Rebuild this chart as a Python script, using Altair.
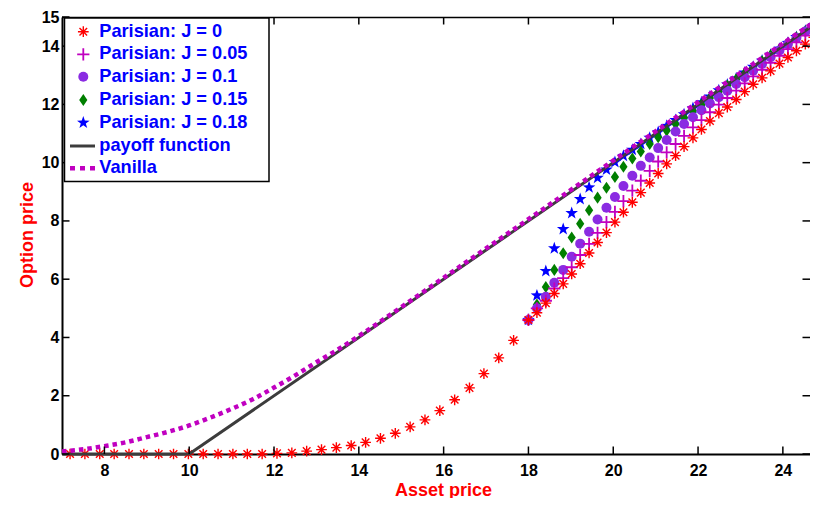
import altair as alt
import pandas as pd

# ---------------- data ----------------
x_ticks = [8, 10, 12, 14, 16, 18, 20, 22, 24]
y_ticks = [0, 2, 4, 6, 8, 10, 12, 14, 15]

# Parisian J = 0 before the barrier region
j0_left_x = [7.19, 7.54, 7.89, 8.23, 8.58, 8.93, 9.28, 9.63, 9.98, 10.33, 10.68,
             11.03, 11.37, 11.72, 12.07, 12.42, 12.77, 13.12, 13.47, 13.82, 14.16,
             14.51, 14.86, 15.21, 15.56, 15.91, 16.26, 16.61, 16.95, 17.30, 17.65]
j0_left_y = [0, 0, 0, 0, 0, 0, 0, 0, 0, 0, 0, 0, 0, 0, 0.02, 0.04, 0.10, 0.15,
             0.22, 0.29, 0.40, 0.54, 0.71, 0.93, 1.17, 1.49, 1.86, 2.27, 2.76, 3.30, 3.90]

# common grid from 18 onwards
par_x = [18.00, 18.20, 18.41, 18.61, 18.82, 19.02, 19.22, 19.43, 19.63, 19.84,
         20.04, 20.24, 20.45, 20.65, 20.86, 21.06, 21.26, 21.47, 21.67, 21.88,
         22.08, 22.28, 22.49, 22.69, 22.90, 23.10, 23.30, 23.51, 23.71, 23.92,
         24.12, 24.32, 24.53, 24.73]
j0_y = [4.60, 4.85, 5.18, 5.51, 5.84, 6.18, 6.53, 6.90, 7.26, 7.60, 7.96, 8.30,
        8.64, 8.97, 9.30, 9.63, 9.96, 10.24, 10.55, 10.85, 11.14, 11.43, 11.70,
        11.91, 12.17, 12.44, 12.69, 12.91, 13.15, 13.40, 13.61, 13.84, 14.07, 14.30]
j005_y = [4.60, 5.00, 5.26, 5.68, 6.04, 6.41, 6.83, 7.21, 7.59, 7.96, 8.31, 8.68,
          9.04, 9.38, 9.72, 10.04, 10.35, 10.64, 10.92, 11.21, 11.46, 11.73, 11.99,
          12.22, 12.47, 12.72, 12.96, 13.19, 13.43, 13.67, 13.90, 14.13, 14.36, 14.58]
j01_y = [4.60, 5.00, 5.40, 5.88, 6.32, 6.77, 7.22, 7.63, 8.05, 8.45, 8.82, 9.20,
         9.55, 9.89, 10.18, 10.50, 10.78, 11.07, 11.33, 11.56, 11.80, 12.03, 12.25,
         12.47, 12.70, 12.93, 13.16, 13.39, 13.62, 13.85, 14.07, 14.29, 14.50, 14.71]
j015_y = [4.60, 5.13, 5.73, 6.32, 6.89, 7.43, 7.90, 8.37, 8.80, 9.14, 9.51, 9.86,
          10.14, 10.38, 10.64, 10.87, 11.10, 11.33, 11.55, 11.78, 12.00, 12.22, 12.44,
          12.65, 12.86, 13.07, 13.27, 13.48, 13.69, 13.89, 14.10, 14.30, 14.51, 14.71]
j018_y = [4.60, 5.44, 6.28, 7.06, 7.72, 8.27, 8.75, 9.15, 9.48, 9.76, 10.02, 10.23,
          10.44, 10.64, 10.85, 11.05, 11.26, 11.46, 11.66, 11.87, 12.07, 12.27, 12.48,
          12.68, 12.89, 13.09, 13.29, 13.50, 13.70, 13.91, 14.11, 14.31, 14.52, 14.72]

payoff_x = [7, 10, 24.83]
payoff_y = [0, 0, 14.83]

van_x = [7, 7.5, 8, 8.5, 9, 9.5, 10, 10.5, 11, 11.5, 12, 12.5, 13, 13.5, 14,
         15, 16, 18, 20, 22, 24, 24.83]
van_y = [0.09, 0.16, 0.27, 0.40, 0.58, 0.76, 0.98, 1.25, 1.55, 1.88, 2.28, 2.70,
         3.15, 3.58, 4.05, 5.04, 6.05, 8.06, 10.07, 12.08, 14.09, 14.92]

legend_labels = ["Parisian: J = 0", "Parisian: J = 0.05", "Parisian: J = 0.1",
                 "Parisian: J = 0.15", "Parisian: J = 0.18", "payoff function", "Vanilla"]

# ---------------- styles ----------------
W, H = 748, 437
FONT = "Liberation Sans"
RED, MAG, PUR, GRN, BLU, GRY = "#ff0000", "#c000c0", "#8a2be2", "#007f00", "#0000ff", "#3c3c3c"

ASTER = "M0,-1L0,1M-1,0L1,0M-0.71,-0.71L0.71,0.71M-0.71,0.71L0.71,-0.71"
PLUS = "M0,-1L0,1M-1,0L1,0"
DIAM = "M0,-1L0.68,0L0,1L-0.68,0Z"
STAR = ("M0,-1L0.235,-0.324L0.951,-0.309L0.38,0.124L0.588,0.809L0,0.4"
        "L-0.588,0.809L-0.38,0.124L-0.951,-0.309L-0.235,-0.324Z")

xs = alt.Scale(domain=[7, 24.64], nice=False, zero=False)
ys = alt.Scale(domain=[0, 15], nice=False, zero=False)

x_axis = alt.Axis(values=x_ticks, title="Asset price", ticks=False, grid=False,
                  domainColor="black", domainWidth=2, labelFont=FONT, labelFontSize=16,
                  labelFontWeight="bold", labelColor="black", labelPadding=8,
                  labelFlush=False, labelOverlap=False, titleFont=FONT, titleFontSize=18,
                  titleFontWeight="bold", titleColor=RED, titleX=381, titleY=41,
                  titleAlign="center", titleBaseline="alphabetic")
y_axis = alt.Axis(values=y_ticks, title="Option price", ticks=False, grid=False,
                  domainColor="black", domainWidth=2, labelFont=FONT, labelFontSize=16,
                  labelFontWeight="bold", labelColor="black", labelPadding=3,
                  labelFlush=False, labelOverlap=False, titleFont=FONT, titleFontSize=18,
                  titleFontWeight="bold", titleColor=RED, titleX=-30, titleY=217.5,
                  titleAlign="center", titleBaseline="alphabetic", titleAngle=270)


def X(f):
    return alt.X(f, type="quantitative", scale=xs, axis=x_axis)


def Y(f):
    return alt.Y(f, type="quantitative", scale=ys, axis=y_axis)


def df(xv, yv):
    return pd.DataFrame({"x": xv, "y": yv})


S_AST, S_PLUS, S_CIR, S_DIA, S_STAR = 115, 150, 100, 145, 175

layers = []

# markers (J = 0.18 first so the J = 0 asterisks end up on top)
layers.append(alt.Chart(df(par_x, j018_y)).mark_point(
    shape=STAR, filled=True, size=S_STAR, color=BLU, opacity=1).encode(x=X("x"), y=Y("y")))
layers.append(alt.Chart(df(par_x, j015_y)).mark_point(
    shape=DIAM, filled=True, size=S_DIA, color=GRN, opacity=1).encode(x=X("x"), y=Y("y")))
layers.append(alt.Chart(df(par_x, j01_y)).mark_point(
    shape="circle", filled=True, size=S_CIR, color=PUR, opacity=1).encode(x=X("x"), y=Y("y")))
layers.append(alt.Chart(df(par_x, j005_y)).mark_point(
    shape=PLUS, filled=False, size=S_PLUS, color=MAG, strokeWidth=1.8, opacity=1
).encode(x=X("x"), y=Y("y")))
layers.append(alt.Chart(df(j0_left_x + par_x, j0_left_y + j0_y)).mark_point(
    shape=ASTER, filled=False, size=S_AST, color=RED, strokeWidth=1.4, opacity=1
).encode(x=X("x"), y=Y("y")))

# lines
layers.append(alt.Chart(df(payoff_x, payoff_y)).mark_line(
    color=GRY, strokeWidth=3).encode(x=X("x"), y=Y("y")))
layers.append(alt.Chart(df(van_x, van_y)).mark_line(
    color=MAG, strokeWidth=4.5, strokeDash=[4.5, 4], strokeCap="butt",
    interpolate="monotone").encode(x=X("x"), y=Y("y")))

# inward tick marks and top border
tick_style = dict(color="black", strokeWidth=1.5)
xt = pd.DataFrame({"x": x_ticks})
yt = pd.DataFrame({"y": y_ticks})
layers.append(alt.Chart(xt).mark_rule(**tick_style).encode(
    x=X("x"), y=alt.value(H), y2=alt.value(H - 7.5)))
layers.append(alt.Chart(xt).mark_rule(**tick_style).encode(
    x=X("x"), y=alt.value(0), y2=alt.value(7.5)))
layers.append(alt.Chart(yt).mark_rule(**tick_style).encode(
    y=Y("y"), x=alt.value(0), x2=alt.value(7.5)))
layers.append(alt.Chart(yt).mark_rule(**tick_style).encode(
    y=Y("y"), x=alt.value(W - 7.5), x2=alt.value(W)))
layers.append(alt.Chart(pd.DataFrame({"a": [0]})).mark_rule(color="black", strokeWidth=1.6).encode(
    x=alt.value(0), x2=alt.value(W + 10), y=alt.value(0.5)))

# legend box
one = pd.DataFrame({"a": [0]})
layers.append(alt.Chart(one).mark_rect(fill="white", stroke="black", strokeWidth=1.5).encode(
    x=alt.value(2.5), x2=alt.value(207), y=alt.value(1), y2=alt.value(164.5)))

rows = [14.7, 37.3, 59.7, 83.0, 105.7, 129.0, 151.3]
sym_x = 21.3
legend_syms = [
    dict(shape=ASTER, filled=False, size=S_AST, color=RED, strokeWidth=1.4),
    dict(shape=PLUS, filled=False, size=S_PLUS, color=MAG, strokeWidth=1.8),
    dict(shape="circle", filled=True, size=S_CIR, color=PUR),
    dict(shape=DIAM, filled=True, size=S_DIA, color=GRN),
    dict(shape=STAR, filled=True, size=S_STAR, color=BLU),
]
for i, sty in enumerate(legend_syms):
    layers.append(alt.Chart(one).mark_point(opacity=1, **sty).encode(
        x=alt.value(sym_x), y=alt.value(rows[i])))
layers.append(alt.Chart(one).mark_rule(color=GRY, strokeWidth=3).encode(
    x=alt.value(8), x2=alt.value(33), y=alt.value(rows[5])))
layers.append(alt.Chart(one).mark_rule(color=MAG, strokeWidth=4.5, strokeDash=[5, 5],
                                       strokeCap="butt").encode(
    x=alt.value(8), x2=alt.value(33), y=alt.value(rows[6])))
for i, lab in enumerate(legend_labels):
    layers.append(alt.Chart(pd.DataFrame({"t": [lab]})).mark_text(
        align="left", baseline="middle", font=FONT, fontSize=18.2, fontWeight="bold",
        color=BLU).encode(x=alt.value(37.3), y=alt.value(rows[i]), text="t:N"))

chart = alt.layer(*layers).properties(
    width=W, height=H,
    padding={"left": 54, "top": 9, "right": 0, "bottom": 44},
    autosize=alt.AutoSizeParams(type="none"),
    background="white",
).configure_view(stroke=None)

chart.save("out.html", embed_options={"renderer": "svg", "actions": False})
